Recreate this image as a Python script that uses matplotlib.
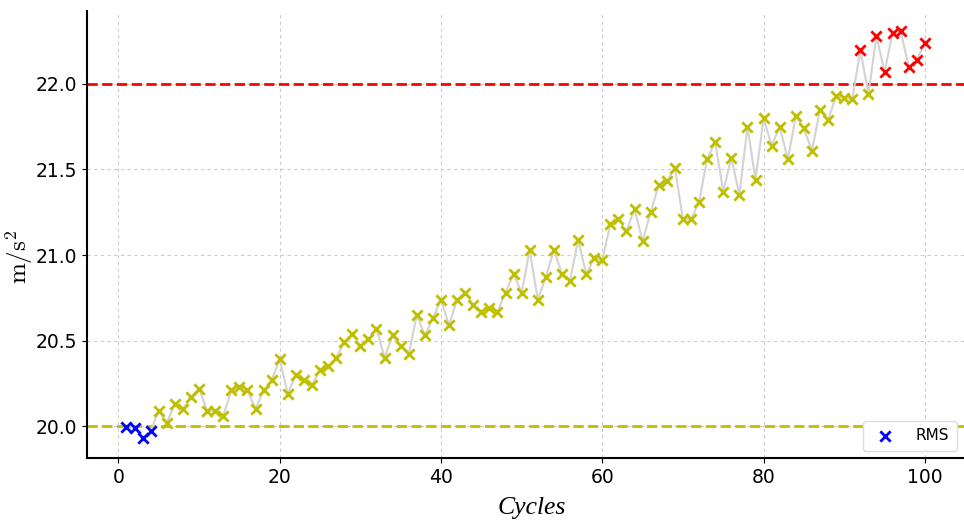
import numpy as np
import matplotlib

matplotlib.use('Agg')
import matplotlib.pyplot as plt

plt.rcParams['font.family'] = ['DejaVu Sans']
plt.rcParams['mathtext.fontset'] = 'cm'

# RMS 가속도 (사이클 1~100)
cycles = np.arange(1, 101)
rms = [
    19.995, 19.99, 19.93, 19.97, 20.09, 20.02, 20.13, 20.10, 20.17, 20.22,
    20.09, 20.09, 20.06, 20.21, 20.23, 20.21, 20.10, 20.21, 20.27, 20.39,
    20.19, 20.30, 20.27, 20.24, 20.33, 20.35, 20.40, 20.49, 20.54, 20.47,
    20.51, 20.57, 20.40, 20.53, 20.47, 20.42, 20.65, 20.53, 20.63, 20.74,
    20.59, 20.74, 20.78, 20.71, 20.67, 20.69, 20.67, 20.78, 20.89, 20.78,
    21.03, 20.74, 20.87, 21.03, 20.89, 20.85, 21.09, 20.89, 20.98, 20.97,
    21.18, 21.21, 21.14, 21.27, 21.08, 21.25, 21.41, 21.43, 21.51, 21.21,
    21.21, 21.31, 21.56, 21.66, 21.37, 21.57, 21.35, 21.75, 21.44, 21.80,
    21.64, 21.75, 21.56, 21.81, 21.74, 21.61, 21.85, 21.79, 21.93, 21.92,
    21.91, 22.20, 21.94, 22.28, 22.07, 22.30, 22.31, 22.10, 22.14, 22.24,
]
lower_limit = 20.0
upper_limit = 22.0

rms = np.array(rms)
low = rms < lower_limit
high = rms > upper_limit
mid = ~(low | high)

fig = plt.figure(figsize=(9.64, 5.27), dpi=100)
ax = fig.add_axes([0.0898, 0.130, 0.911, 0.850])

ax.plot(cycles, rms, color='#d3d3d3', linewidth=1.5, zorder=2)
ax.scatter(cycles[low], rms[low], marker='x', color='b', s=55, linewidths=2, zorder=3, label='RMS')
ax.scatter(cycles[mid], rms[mid], marker='x', color='y', s=55, linewidths=2, zorder=3)
ax.scatter(cycles[high], rms[high], marker='x', color='r', s=55, linewidths=2, zorder=3)

ax.axhline(upper_limit, color='r', linestyle='--', linewidth=2, zorder=1)
ax.axhline(lower_limit, color='y', linestyle='--', linewidth=2, zorder=1)

ax.grid(True, color='#cccccc', linestyle=(0, (3, 3)), linewidth=0.8)
ax.set_axisbelow(True)
for side in ['top', 'right']:
    ax.spines[side].set_visible(False)
for side in ['left', 'bottom']:
    ax.spines[side].set_linewidth(1.5)

ax.set_xlim(-3.95, 104.95)
ax.set_xticks([0, 20, 40, 60, 80, 100])
ax.set_yticks([20.0, 20.5, 21.0, 21.5, 22.0])
ax.tick_params(labelsize=13.5)

ax.set_xlabel('Cycles', family='Liberation Serif', style='italic', fontsize=18.5)
ax.xaxis.set_label_coords(0.507, -0.085)
ax.set_ylabel(r'$\mathrm{m/s^2}$', fontsize=18)
ax.yaxis.set_label_coords(-0.059, 0.45)

ax.legend(loc='lower right', fontsize=11, handletextpad=1.0, borderpad=0.5, framealpha=1,
          edgecolor='#dddddd')

plt.savefig('out.png', dpi=100)
plt.close()
